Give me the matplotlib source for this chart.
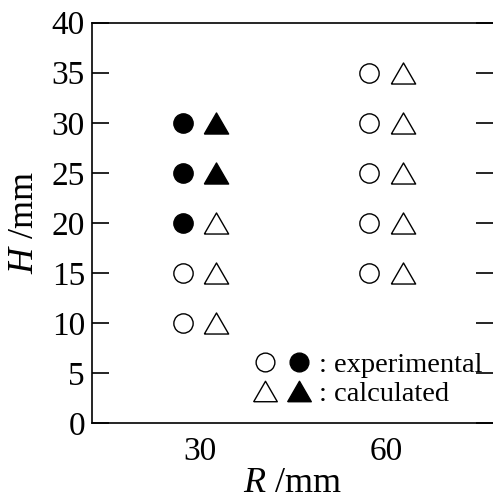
import numpy as np
import matplotlib
matplotlib.use("Agg")
from matplotlib import pyplot as plt
from matplotlib import transforms
from matplotlib.lines import Line2D
from matplotlib.legend_handler import HandlerTuple

# radius R (mm) and height H (mm) of each case
R = [30, 30, 30, 30, 30, 60, 60, 60, 60, 60]
H = [10, 15, 20, 25, 30, 15, 20, 25, 30, 35]
# True = filled marker
exp_filled = [False, False, True, True, True, False, False, False, False, False]
calc_filled = [False, False, False, True, True, False, False, False, False, False]

x_ticks = [30, 60]
y_ticks = [0, 5, 10, 15, 20, 25, 30, 35, 40]

plt.rcParams['font.family'] = ['Liberation Serif', 'DejaVu Serif']
plt.rcParams['mathtext.fontset'] = 'custom'
plt.rcParams['mathtext.it'] = 'Liberation Serif:italic'
plt.rcParams['mathtext.rm'] = 'Liberation Serif'

# equilateral triangle with a centred bounding box
tri = [(-1, -0.866), (1, -0.866), (0, 0.866), (-1, -0.866)]

fig = plt.figure(figsize=(4.93, 4.99), dpi=100)
ax = fig.add_axes([0.1866, 0.1523, 0.8144, 0.8022])

shift = 12.2 / 72
left = ax.transData + transforms.ScaledTranslation(-shift, 0, fig.dpi_scale_trans)
right = ax.transData + transforms.ScaledTranslation(shift, 0, fig.dpi_scale_trans)

for r, h, f in zip(R, H, exp_filled):
    ax.plot(r, h, marker='o', ms=13.9, mew=1.0, mec='black',
            mfc='black' if f else 'white', transform=left, ls='none')
for r, h, f in zip(R, H, calc_filled):
    ax.plot(r, h, marker=tri, ms=17.5, mew=1.0, mec='black',
            mfc='black' if f else 'white', transform=right, ls='none')

ax.set_xlim(12.7, 77.3)
ax.set_ylim(0, 40)
ax.set_xticks(x_ticks)
ax.set_yticks(y_ticks)
ax.tick_params(axis='x', length=0, labelsize=24, pad=10)
ax.tick_params(axis='y', direction='in', length=12, width=1.2, labelsize=24,
               right=True, pad=5)
for s in ax.spines.values():
    s.set_linewidth(1.2)
ax.spines['right'].set_visible(False)

ax.set_xlabel(r'$R$ /mm', fontsize=26, labelpad=0)
ax.set_ylabel(r'$H$ /mm', fontsize=26, labelpad=8)

# legend
def mk(m, f, size):
    return Line2D([], [], marker=m, ms=size, mew=1.0, mec='black',
                  mfc='black' if f else 'white', ls='none')

handles = [(mk('o', False, 13.5), mk('o', True, 13.5)),
           (mk(tri, False, 17), mk(tri, True, 17))]
labels = [': experimental', ': calculated']
ax.legend(handles, labels, handler_map={tuple: HandlerTuple(ndivide=None, pad=0.3)},
          loc='lower right', bbox_to_anchor=(1.0, 0.0125), frameon=False,
          fontsize=20.5, handlelength=2.08, handletextpad=0.26, labelspacing=0.1,
          borderaxespad=0.0)

fig.savefig('out.png', dpi=100)
